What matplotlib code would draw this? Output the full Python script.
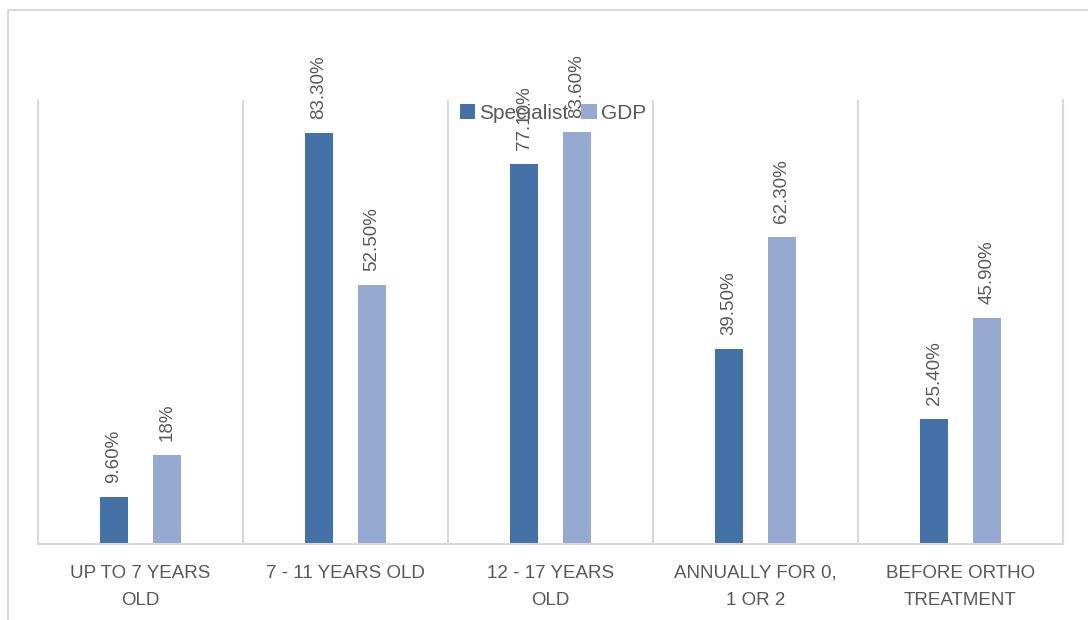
import numpy as np
import matplotlib
matplotlib.use("Agg")
from matplotlib import pyplot as plt
from matplotlib.lines import Line2D

categories = ["UP TO 7 YEARS\nOLD", "7 - 11 YEARS OLD", "12 - 17 YEARS\nOLD",
              "ANNUALLY FOR 0,\n1 OR 2", "BEFORE ORTHO\nTREATMENT"]
specialist = [9.6, 83.3, 77.1, 39.5, 25.4]
gdp = [18.0, 52.5, 83.6, 62.3, 45.9]
specialist_labels = ["9.60%", "83.30%", "77.10%", "39.50%", "25.40%"]
gdp_labels = ["18%", "52.50%", "83.60%", "62.30%", "45.90%"]

plt.rcParams['font.family'] = ['Liberation Sans', 'DejaVu Sans']

dark_blue = "#4472a6"
light_blue = "#95a9d1"
grid_gray = "#d9d9d9"
text_gray = "#595959"

fig = plt.figure(figsize=(10.88, 6.2), dpi=100)
ax = fig.add_axes([38 / 1088, 76 / 620, 1025 / 1088, 444 / 620])

x = np.arange(len(categories))
width = 0.137
offset = 0.129
bars1 = ax.bar(x - offset, specialist, width, color=dark_blue, label="Specialist", zorder=2)
bars2 = ax.bar(x + offset, gdp, width, color=light_blue, label="GDP", zorder=2)

for bars, labels in [(bars1, specialist_labels), (bars2, gdp_labels)]:
    for bar, text in zip(bars, labels):
        ax.annotate(text, (bar.get_x() + bar.get_width() / 2, bar.get_height()),
                    xytext=(0, 10), textcoords="offset points", rotation=90,
                    ha="center", va="bottom", fontsize=13.5, color=text_gray)

ax.set_xlim(-0.5, len(categories) - 0.5)
ax.set_ylim(0, 90)
for b in np.arange(0.5, len(categories) - 1, 1.0):
    ax.axvline(b, color=grid_gray, lw=1.5, zorder=1)

ax.spines["top"].set_visible(False)
for side in ["left", "right", "bottom"]:
    ax.spines[side].set_color(grid_gray)
    ax.spines[side].set_linewidth(1.5)

ax.set_yticks([])
ax.set_xticks(x)
ax.set_xticklabels(categories, fontsize=13.5, color=text_gray, linespacing=1.75)
ax.tick_params(axis="x", length=0, pad=15)

ax.legend(loc="center", bbox_to_anchor=(553 / 1088, 1 - 113 / 620),
          bbox_transform=fig.transFigure, ncol=2, frameon=False,
          fontsize=15, labelcolor=text_gray, handlelength=0.75, handleheight=0.75,
          handletextpad=0.2, columnspacing=0.6)

# outer chart border (top and left only visible)
fig.add_artist(Line2D([8 / 1088, 8 / 1088, 1.0], [0.0, 1 - 10 / 620, 1 - 10 / 620],
                      transform=fig.transFigure, color=grid_gray, lw=1.5))

fig.savefig("out.png", dpi=100)
